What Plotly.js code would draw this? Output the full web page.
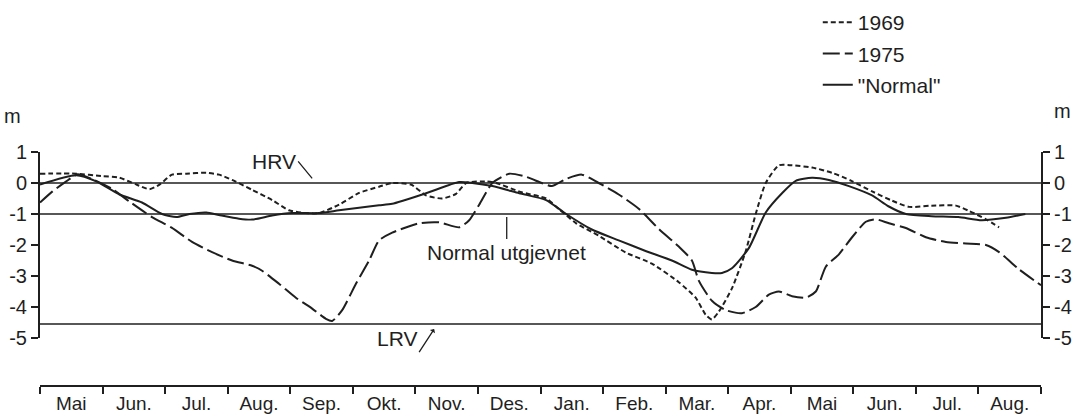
<!DOCTYPE html>
<html>
<head>
<meta charset="utf-8">
<script src="https://cdn.plot.ly/plotly-3.0.1.min.js"></script>
<style>
  html, body { margin: 0; padding: 0; background: #fff; }
  #chart { width: 1075px; height: 417px; }
</style>
</head>
<body>
<div id="chart"></div>
<script>
// Month labels along the bottom bar (May year 1 .. Aug year 2)
const months = ['Mai','Jun.','Jul.','Aug.','Sep.','Okt.','Nov.','Des.','Jan.','Feb.','Mar.','Apr.','Mai','Jun.','Jul.','Aug.'];

// Reference levels (m)
const HRV = 0;
const NORMAL_UTGJEVNET = -1;
const LRV = -4.55;

// 1969 series (x in months from start of first May)
const x1969 = [0, 0.58, 1.0, 1.27, 1.54, 1.75, 1.91, 2.11, 2.34, 2.66, 2.86, 3.07, 3.39, 3.71, 3.98, 4.25, 4.46, 4.78, 5.10, 5.42, 5.63, 5.93, 6.17, 6.43, 6.65, 6.81, 7.13, 7.29, 7.7, 8.09, 8.30, 8.57, 8.93, 9.37, 9.78, 10.21, 10.48, 10.64, 10.74, 10.85, 11.06, 11.28, 11.44, 11.60, 11.81, 12.02, 12.34, 12.66, 12.97, 13.30, 13.62, 13.89, 14.25, 14.64, 14.85, 15.12, 15.33];
const y1969 = [0.3, 0.3, 0.22, 0.17, -0.05, -0.2, -0.05, 0.27, 0.3, 0.33, 0.27, 0.1, -0.22, -0.55, -0.88, -0.97, -0.97, -0.7, -0.32, -0.12, 0.0, -0.05, -0.4, -0.5, -0.35, 0.0, 0.05, 0.0, -0.3, -0.5, -0.85, -1.3, -1.7, -2.25, -2.6, -3.2, -3.7, -4.25, -4.4, -4.15, -3.4, -2.2, -1.0, 0.0, 0.57, 0.57, 0.5, 0.33, 0.07, -0.27, -0.57, -0.77, -0.73, -0.73, -0.9, -1.17, -1.43];

// 1975 series
const x1975 = [0, 0.2, 0.42, 0.6, 0.84, 1.16, 1.43, 1.79, 2.11, 2.43, 2.75, 3.07, 3.39, 3.55, 3.82, 4.09, 4.35, 4.57, 4.67, 4.83, 5.05, 5.26, 5.42, 5.63, 6.06, 6.38, 6.70, 6.86, 7.02, 7.23, 7.50, 7.77, 8.02, 8.18, 8.41, 8.66, 8.93, 9.25, 9.57, 9.90, 10.21, 10.42, 10.53, 10.74, 10.96, 11.22, 11.44, 11.65, 11.81, 12.02, 12.24, 12.40, 12.56, 12.77, 12.98, 13.20, 13.36, 13.57, 13.84, 14.16, 14.48, 14.80, 15.12, 15.33, 15.64, 16.0];
const y1975 = [-0.63, -0.27, 0.05, 0.28, 0.12, -0.2, -0.6, -1.1, -1.45, -1.9, -2.23, -2.5, -2.67, -2.83, -3.25, -3.7, -4.05, -4.38, -4.45, -4.1, -3.25, -2.5, -1.85, -1.6, -1.3, -1.27, -1.43, -1.2, -0.7, 0.0, 0.3, 0.2, 0.0, -0.1, 0.13, 0.27, 0.0, -0.37, -0.83, -1.5, -2.05, -2.5, -3.15, -3.8, -4.1, -4.2, -4.0, -3.6, -3.5, -3.65, -3.7, -3.5, -2.7, -2.3, -1.75, -1.25, -1.17, -1.3, -1.45, -1.75, -1.9, -1.95, -2.0, -2.23, -2.77, -3.3];

// "Normal" series
const xNormal = [0, 0.58, 0.90, 1.27, 1.63, 1.95, 2.18, 2.39, 2.66, 2.86, 3.18, 3.39, 3.71, 4.03, 4.46, 4.78, 5.10, 5.42, 5.63, 6.17, 6.70, 6.91, 7.23, 7.66, 8.09, 8.41, 8.82, 9.25, 9.69, 10.10, 10.42, 10.74, 10.90, 11.06, 11.33, 11.60, 11.86, 12.08, 12.34, 12.61, 12.93, 13.30, 13.56, 13.84, 14.25, 14.68, 15.05, 15.44, 15.75];
const yNormal = [-0.05, 0.25, 0.05, -0.37, -0.63, -1.0, -1.1, -1.0, -0.95, -1.03, -1.15, -1.18, -1.05, -0.97, -0.97, -0.88, -0.8, -0.72, -0.67, -0.33, 0.03, 0.0, -0.1, -0.33, -0.55, -1.0, -1.5, -1.85, -2.2, -2.5, -2.8, -2.9, -2.9, -2.75, -2.1, -0.95, -0.33, 0.07, 0.17, 0.1, -0.1, -0.4, -0.75, -1.0, -1.07, -1.1, -1.2, -1.12, -1.0];

const INK = '#1f1f1f';
const FONT = 'Liberation Sans, Arial, Helvetica, sans-serif';
const span = [0, months.length];

const lineStyle = (dash, w) => ({ color: INK, width: w, dash: dash, shape: 'spline', smoothing: 0.6 });

const traces = [
  { x: x1969, y: y1969, name: '1969', mode: 'lines', line: lineStyle('5px,3px', 2), legendgroup: 'a', hoverinfo: 'skip' },
  { x: x1975, y: y1975, name: '1975', mode: 'lines', line: lineStyle('17px,5px', 2), legendgroup: 'b', hoverinfo: 'skip' },
  { x: xNormal, y: yNormal, name: '"Normal"', mode: 'lines', line: lineStyle('solid', 2), legendgroup: 'c', hoverinfo: 'skip' },
  { x: span, y: [HRV, HRV], mode: 'lines', line: { color: INK, width: 1.5 }, showlegend: false, hoverinfo: 'skip', yaxis: 'y2' },
  { x: span, y: [NORMAL_UTGJEVNET, NORMAL_UTGJEVNET], mode: 'lines', line: { color: INK, width: 1.5 }, showlegend: false, hoverinfo: 'skip', yaxis: 'y2' },
  { x: span, y: [LRV, LRV], mode: 'lines', line: { color: INK, width: 1.5 }, showlegend: false, hoverinfo: 'skip', yaxis: 'y2' }
];

const yTicks = [-5, -4, -3, -2, -1, 0, 1];
const yCommon = {
  range: [-5, 1], tickvals: yTicks, ticktext: yTicks.map(String),
  showline: true, linewidth: 2, linecolor: INK,
  ticks: 'outside', ticklen: 7, tickwidth: 2, tickcolor: INK,
  showgrid: false, zeroline: false, fixedrange: true,
  tickfont: { family: FONT, size: 20, color: INK }
};

const layout = {
  width: 1075, height: 417,
  margin: { l: 40, r: 34, t: 152, b: 31, autoexpand: false },
  paper_bgcolor: '#fff', plot_bgcolor: '#fff',
  font: { family: FONT, size: 20, color: INK },
  showlegend: true,
  legend: {
    x: 0.777, xanchor: 'left', y: 1.641, yanchor: 'top',
    font: { family: FONT, size: 21, color: INK },
    traceorder: 'grouped', tracegroupgap: 1,
    bgcolor: 'rgba(0,0,0,0)'
  },
  xaxis: {
    range: span, anchor: 'free', position: 0,
    showline: true, linewidth: 2, linecolor: INK,
    tickmode: 'array', tickvals: months.map((m, i) => i + 0.5), ticktext: months,
    ticks: '', showgrid: false, zeroline: false, fixedrange: true,
    tickfont: { family: FONT, size: 19, color: INK },
    minor: { tick0: 0, dtick: 1, ticks: 'outside', ticklen: 7, tickwidth: 2, tickcolor: INK, showgrid: false }
  },
  yaxis: Object.assign({ domain: [0.2051, 1], anchor: 'x', side: 'left' }, yCommon),
  yaxis2: Object.assign({ overlaying: 'y', anchor: 'x', side: 'right' }, yCommon),
  annotations: [
    { xref: 'paper', yref: 'paper', x: -0.027, y: 1.154, xanchor: 'center', yanchor: 'middle', text: 'm', showarrow: false, font: { family: FONT, size: 20, color: INK } },
    { xref: 'paper', yref: 'paper', x: 1.021, y: 1.175, xanchor: 'center', yanchor: 'middle', text: 'm', showarrow: false, font: { family: FONT, size: 20, color: INK } },
    { x: 4.35, y: HRV + 0.15, text: 'HRV', showarrow: true, arrowhead: 0, arrowwidth: 1.3, arrowcolor: INK,
      ax: -14, ay: -17, xanchor: 'right', yanchor: 'middle', font: { family: FONT, size: 21, color: INK } },
    { x: 6.30, y: LRV - 0.16, text: 'LRV', showarrow: true, arrowhead: 1, arrowsize: 0.8, arrowwidth: 1.3, arrowcolor: INK,
      ax: -15, ay: 23, xanchor: 'right', yanchor: 'bottom', font: { family: FONT, size: 21, color: INK } },
    { x: 7.46, y: NORMAL_UTGJEVNET, text: 'Normal utgjevnet', showarrow: true, arrowhead: 0, arrowwidth: 1.3, arrowcolor: INK,
      standoff: 3, ax: 0, ay: 38, font: { family: FONT, size: 21, color: INK } }
  ]
};

Plotly.newPlot('chart', traces, layout, { staticPlot: true, displayModeBar: false });
</script>
</body>
</html>
